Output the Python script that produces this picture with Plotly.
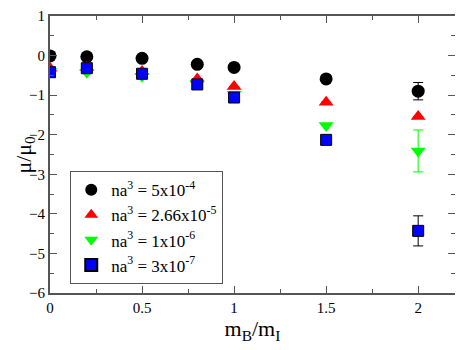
import plotly.graph_objects as go

mass_ratio = [0, 0.2, 0.5, 0.8, 1.0, 1.5, 2.0]

mu_5e4 = [-0.01, -0.03, -0.07, -0.22, -0.30, -0.59, -0.90]
err_5e4 = [0, 0, 0, 0, 0, 0, 0.22]

mu_266e5 = [-0.32, -0.30, -0.40, -0.59, -0.78, -1.18, -1.54]
err_266e5 = [0, 0, 0, 0, 0, 0, 0]

mu_1e6 = [-0.40, -0.42, -0.52, -0.70, -0.98, -1.77, -2.41]
err_1e6 = [0, 0, 0, 0, 0, 0, 0.53]

mu_3e7 = [-0.42, -0.32, -0.46, -0.73, -1.06, -2.13, -4.43]
err_3e7 = [0, 0, 0, 0, 0, 0, 0.38]

labels = ["na<sup>3</sup> = 5x10<sup>-4</sup>",
          "na<sup>3</sup> = 2.66x10<sup>-5</sup>",
          "na<sup>3</sup> = 1x10<sup>-6</sup>",
          "na<sup>3</sup> = 3x10<sup>-7</sup>"]

series = [
    (mu_5e4, err_5e4, 'circle', 'black', 'black', 13, 'black'),
    (mu_266e5, err_266e5, 'triangle-up', 'red', 'red', 13, 'red'),
    (mu_1e6, err_1e6, 'triangle-down', '#00ff00', '#00ff00', 13, '#00ff00'),
    (mu_3e7, err_3e7, 'square', '#0000ff', 'black', 11, 'black'),
]

SERIF = 'Times New Roman, Liberation Serif, serif'

fig = go.Figure()
for (vals, errs, sym, col, edge, sz, ecol), name in zip(series, labels):
    fig.add_trace(go.Scatter(
        x=mass_ratio, y=vals, mode='markers', name=name,
        marker=dict(symbol=sym, color=col, size=sz,
                    line=dict(color=edge, width=1 if edge != col else 0)),
        error_y=dict(type='data', array=errs, visible=True,
                     color=ecol, thickness=1, width=5),
    ))

axis_common = dict(
    showgrid=False, zeroline=False, mirror='allticks', ticks='inside',
    showline=True, linecolor='#555555', linewidth=2, tickcolor='#555555',
    ticklen=7, tickwidth=1, automargin=False, ticklabeloverflow='allow',
    tickfont=dict(family=SERIF, size=15, color='black'),
)

fig.update_xaxes(range=[0, 2.2], dtick=0.5,
                 minor=dict(dtick=0.25, ticks='inside', ticklen=4,
                            tickcolor='#555555'),
                 title=dict(text='m<sub>B</sub>/m<sub>I</sub>', standoff=4,
                            font=dict(family=SERIF, size=22, color='black')),
                 **axis_common)
fig.update_yaxes(range=[-6, 1], dtick=1,
                 minor=dict(dtick=0.5, ticks='inside', ticklen=4,
                            tickcolor='#555555'),
                 **axis_common)

# y title placed by hand, closer to the edge than plotly's standoff allows
fig.add_annotation(text='μ/μ<sub>0</sub>', xref='paper', yref='paper',
                   x=-0.064, y=0.5, xanchor='center', yanchor='middle',
                   textangle=-90, showarrow=False,
                   font=dict(family=SERIF, size=22, color='black'))

# page adds an 8px body margin, so the figure is sized to the remaining area
fig.update_layout(
    width=455, height=342,
    margin=dict(l=42, r=8, t=8, b=57),
    plot_bgcolor='white', paper_bgcolor='white',
    font=dict(family=SERIF, color='black'),
    legend=dict(x=0.05, y=0.44, xanchor='left', yanchor='top',
                bordercolor='#555555', borderwidth=1, bgcolor='white',
                font=dict(family=SERIF, size=17),
                itemsizing='constant', tracegroupgap=0),
)

fig.write_html("out.html")
